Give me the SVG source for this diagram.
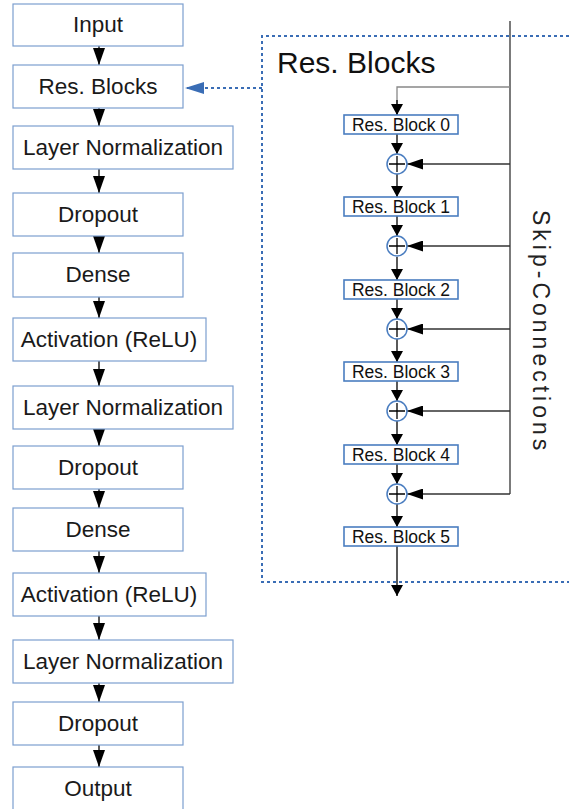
<svg xmlns="http://www.w3.org/2000/svg" width="569" height="809" viewBox="0 0 569 809">
<style>
.box{fill:#fff;stroke:#7c9fcf;stroke-width:1.2}
.sbox{fill:#fff;stroke:#4a7dc0;stroke-width:1.6}
.t{font-family:"Liberation Sans",Arial,sans-serif;font-size:22.5px;fill:#1a1a1a;text-anchor:middle}
.st{font-family:"Liberation Sans",Arial,sans-serif;font-size:17.5px;fill:#111;text-anchor:middle}
.ln{stroke:#000;stroke-width:1.3;fill:none}
.sk{stroke:#333;stroke-width:1.3;fill:none}
.plus{fill:#fff;stroke:#4a7dc0;stroke-width:1.5}
</style>
<defs>
<marker id="ah" markerUnits="userSpaceOnUse" markerWidth="18" markerHeight="12" refX="17" refY="6" orient="auto">
<path d="M0,0 L17,6 L0,12 Z" fill="#000"/>
</marker>
<marker id="sah" markerUnits="userSpaceOnUse" markerWidth="12" markerHeight="12" refX="11" refY="6" orient="auto">
<path d="M0,0 L11,6 L0,12 Z" fill="#000"/>
</marker>
<marker id="kah" markerUnits="userSpaceOnUse" markerWidth="17" markerHeight="11" refX="16" refY="5.5" orient="auto">
<path d="M0,0 L16,5.5 L0,11 Z" fill="#000"/>
</marker>
<marker id="bah" markerUnits="userSpaceOnUse" markerWidth="20" markerHeight="12" refX="19" refY="6" orient="auto">
<path d="M0,0 L19,6 L0,12 Z" fill="#3a6db5"/>
</marker>
</defs>

<g id="resblocks-frame">
<path d="M575,36 H262 V582 H575" fill="none" stroke="#3a6db5" stroke-width="2" stroke-dasharray="3,3"/>
<text x="277" y="73" font-family="Liberation Sans, Arial, sans-serif" font-size="30" fill="#111">Res. Blocks</text>
<text transform="translate(533,210) rotate(90)" font-family="Liberation Sans, Arial, sans-serif" font-size="23" letter-spacing="4" fill="#222">Skip-Connections</text>
</g>

<g id="connectors">
<line class="ln" x1="99" y1="46" x2="99" y2="65" marker-end="url(#ah)"/>
<line class="ln" x1="99" y1="108" x2="99" y2="126" marker-end="url(#ah)"/>
<line class="ln" x1="99" y1="169" x2="99" y2="193" marker-end="url(#ah)"/>
<line class="ln" x1="99" y1="236" x2="99" y2="253" marker-end="url(#ah)"/>
<line class="ln" x1="99" y1="297" x2="99" y2="318" marker-end="url(#ah)"/>
<line class="ln" x1="99" y1="361" x2="99" y2="386" marker-end="url(#ah)"/>
<line class="ln" x1="99" y1="429" x2="99" y2="446" marker-end="url(#ah)"/>
<line class="ln" x1="99" y1="489" x2="99" y2="508" marker-end="url(#ah)"/>
<line class="ln" x1="99" y1="551" x2="99" y2="573" marker-end="url(#ah)"/>
<line class="ln" x1="99" y1="616" x2="99" y2="640" marker-end="url(#ah)"/>
<line class="ln" x1="99" y1="683" x2="99" y2="702" marker-end="url(#ah)"/>
<line class="ln" x1="99" y1="745" x2="99" y2="767" marker-end="url(#ah)"/>
<line x1="262" y1="88" x2="185" y2="88" stroke="#3a6db5" stroke-width="2" stroke-dasharray="3,3" marker-end="url(#bah)"/>
<line class="sk" x1="510" y1="21" x2="510" y2="494"/>
<path d="M510,87 H397 V115" fill="none" stroke="#888" stroke-width="1.3"/>
<line class="ln" x1="397" y1="100" x2="397" y2="115" marker-end="url(#sah)"/>
<line class="ln" x1="397" y1="134" x2="397" y2="154" marker-end="url(#sah)"/>
<line class="ln" x1="397" y1="174" x2="397" y2="197" marker-end="url(#sah)"/>
<line class="ln" x1="397" y1="216" x2="397" y2="236" marker-end="url(#sah)"/>
<line class="ln" x1="397" y1="257" x2="397" y2="280" marker-end="url(#sah)"/>
<line class="ln" x1="397" y1="299" x2="397" y2="319" marker-end="url(#sah)"/>
<line class="ln" x1="397" y1="339" x2="397" y2="362" marker-end="url(#sah)"/>
<line class="ln" x1="397" y1="381" x2="397" y2="401" marker-end="url(#sah)"/>
<line class="ln" x1="397" y1="421" x2="397" y2="445" marker-end="url(#sah)"/>
<line class="ln" x1="397" y1="464" x2="397" y2="484" marker-end="url(#sah)"/>
<line class="ln" x1="397" y1="504" x2="397" y2="527" marker-end="url(#sah)"/>
<line class="ln" x1="397" y1="546" x2="397" y2="596" marker-end="url(#sah)"/>
<line class="sk" x1="510" y1="164" x2="407" y2="164" marker-end="url(#kah)"/>
<line class="sk" x1="510" y1="246" x2="407" y2="246" marker-end="url(#kah)"/>
<line class="sk" x1="510" y1="329" x2="407" y2="329" marker-end="url(#kah)"/>
<line class="sk" x1="510" y1="411" x2="407" y2="411" marker-end="url(#kah)"/>
<line class="sk" x1="510" y1="494" x2="407" y2="494" marker-end="url(#kah)"/>
</g>

<g id="input"><rect class="box" x="13" y="4" width="170" height="42"/><text class="t" x="98" y="32">Input</text></g>
<g id="res-blocks"><rect class="box" x="13" y="65" width="170" height="43"/><text class="t" x="98" y="94">Res. Blocks</text></g>
<g id="layernorm-1"><rect class="box" x="13" y="126" width="220" height="43"/><text class="t" x="123" y="155">Layer Normalization</text></g>
<g id="dropout-1"><rect class="box" x="13" y="193" width="170" height="43"/><text class="t" x="98" y="222">Dropout</text></g>
<g id="dense-1"><rect class="box" x="13" y="253" width="170" height="44"/><text class="t" x="98" y="282">Dense</text></g>
<g id="activation-1"><rect class="box" x="13" y="318" width="193" height="43"/><text class="t" x="109" y="347">Activation (ReLU)</text></g>
<g id="layernorm-2"><rect class="box" x="13" y="386" width="220" height="43"/><text class="t" x="123" y="415">Layer Normalization</text></g>
<g id="dropout-2"><rect class="box" x="13" y="446" width="170" height="43"/><text class="t" x="98" y="475">Dropout</text></g>
<g id="dense-2"><rect class="box" x="13" y="508" width="170" height="43"/><text class="t" x="98" y="537">Dense</text></g>
<g id="activation-2"><rect class="box" x="13" y="573" width="193" height="43"/><text class="t" x="109" y="602">Activation (ReLU)</text></g>
<g id="layernorm-3"><rect class="box" x="13" y="640" width="220" height="43"/><text class="t" x="123" y="669">Layer Normalization</text></g>
<g id="dropout-3"><rect class="box" x="13" y="702" width="170" height="43"/><text class="t" x="98" y="731">Dropout</text></g>
<g id="output"><rect class="box" x="13" y="767" width="170" height="45"/><text class="t" x="98" y="796">Output</text></g>

<g id="res-block-0"><rect class="sbox" x="344" y="115" width="114" height="19"/><text class="st" x="401" y="131">Res. Block 0</text></g>
<g id="res-block-1"><rect class="sbox" x="344" y="197" width="114" height="19"/><text class="st" x="401" y="213">Res. Block 1</text></g>
<g id="res-block-2"><rect class="sbox" x="344" y="280" width="114" height="19"/><text class="st" x="401" y="296">Res. Block 2</text></g>
<g id="res-block-3"><rect class="sbox" x="344" y="362" width="114" height="19"/><text class="st" x="401" y="378">Res. Block 3</text></g>
<g id="res-block-4"><rect class="sbox" x="344" y="445" width="114" height="19"/><text class="st" x="401" y="461">Res. Block 4</text></g>
<g id="res-block-5"><rect class="sbox" x="344" y="527" width="114" height="19"/><text class="st" x="401" y="543">Res. Block 5</text></g>

<g id="add-0"><circle class="plus" cx="397" cy="164" r="10"/><path class="ln" d="M389,164 H405 M397,156 V172" stroke-width="1.6"/></g>
<g id="add-1"><circle class="plus" cx="397" cy="246" r="10"/><path class="ln" d="M389,246 H405 M397,238 V254" stroke-width="1.6"/></g>
<g id="add-2"><circle class="plus" cx="397" cy="329" r="10"/><path class="ln" d="M389,329 H405 M397,321 V337" stroke-width="1.6"/></g>
<g id="add-3"><circle class="plus" cx="397" cy="411" r="10"/><path class="ln" d="M389,411 H405 M397,403 V419" stroke-width="1.6"/></g>
<g id="add-4"><circle class="plus" cx="397" cy="494" r="10"/><path class="ln" d="M389,494 H405 M397,486 V502" stroke-width="1.6"/></g>
</svg>
